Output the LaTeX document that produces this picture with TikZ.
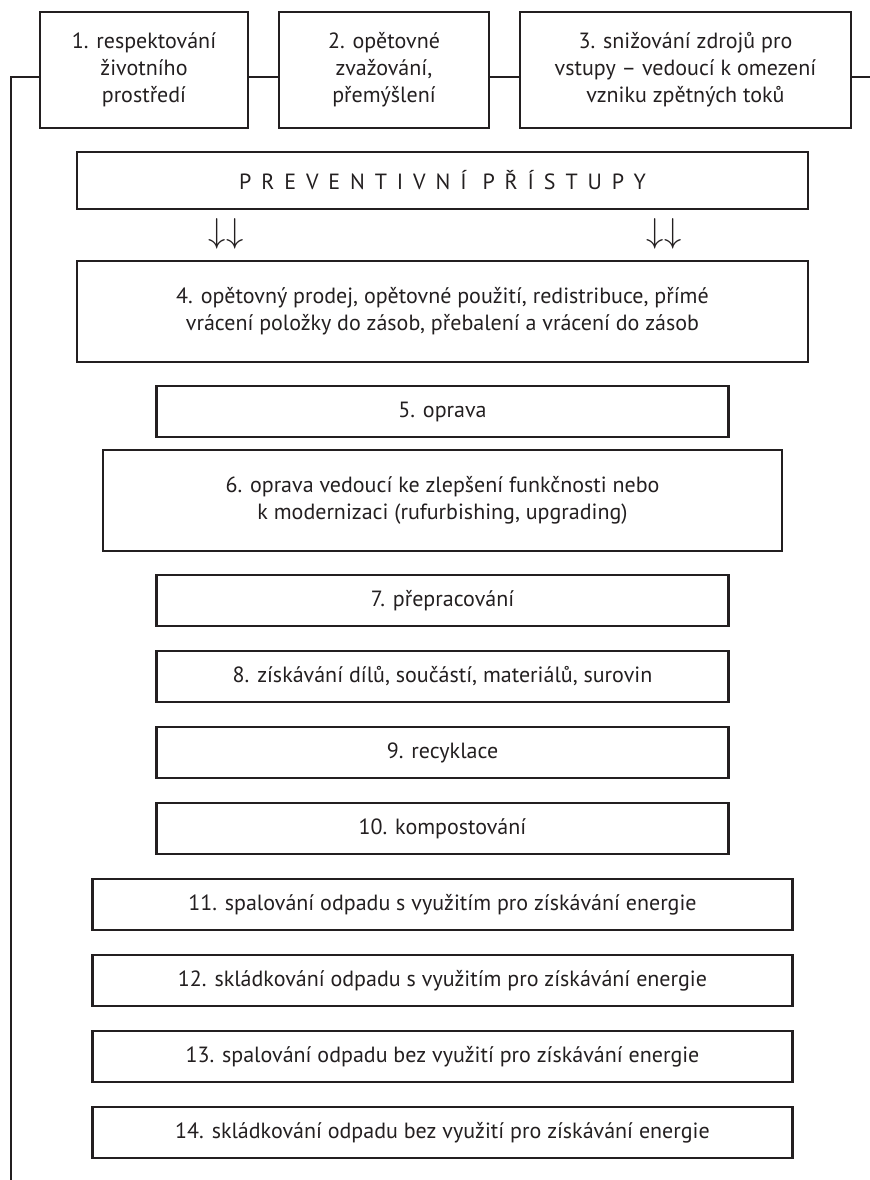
\documentclass[tikz,border=0pt]{standalone}
\usepackage{fontspec}
\setmainfont{PT Sans}
\usepackage{tikz}
\usetikzlibrary{positioning}
\definecolor{ink}{HTML}{231F20}
\tikzstyle{topbox} = [rectangle, draw=ink, line width=1.1pt, minimum height=58pt, align=center, text=ink, inner sep=0pt]
\tikzstyle{widebox} = [rectangle, draw=ink, line width=1.1pt, minimum width=365.5pt, minimum height=50.5pt, align=center, text=ink]
\tikzstyle{stepbox} = [rectangle, draw=ink, line width=1.1pt, minimum width=286pt, minimum height=25.5pt, align=center, text=ink]
\tikzstyle{endbox} = [stepbox, minimum width=350pt]
\tikzstyle{link} = [draw=ink, line width=1.1pt]
\tikzstyle{downs} = [text=ink, font=\fontsize{17}{17}\selectfont, inner sep=0pt]

\begin{document}
\begin{tikzpicture}[node distance=38pt, font=\fontsize{11}{13.5}\selectfont]
\useasboundingbox (0,0) rectangle (435pt,-590pt);

\node (resp) [topbox, minimum width=104pt] at (72pt,-35pt) {1. respektování\\ životního\\ prostředí};
\node (zvaz) [topbox, minimum width=105pt] at (192pt,-35pt) {2. opětovné\\ zvažování,\\ přemýšlení};
\node (sniz) [topbox, minimum width=165.5pt] at (342.75pt,-35pt) {3. snižování zdrojů pro\\ vstupy – vedoucí k omezení\\ vzniku zpětných toků};
\node (prev) [widebox, minimum height=28.5pt] at (221.25pt,-90.25pt) {\addfontfeature{LetterSpace=45}PREVENTIVNÍ PŘÍSTUPY};
\node (arrl) [downs] at (113pt,-117pt) {$\downarrow\downarrow$};
\node (arrr) [downs] at (332pt,-117pt) {$\downarrow\downarrow$};

\node (prodej) [widebox, below of=prev, yshift=-27.5pt] {4. opětovný prodej, opětovné použití, redistribuce, přímé\\ vrácení položky do zásob, přebalení a vrácení do zásob};
\node (oprava) [stepbox, below of=prodej, yshift=-12pt] {5. oprava};
\node (modern) [widebox, minimum width=339.5pt, below of=oprava, yshift=-6.5pt] {6. oprava vedoucí ke zlepšení funkčnosti nebo\\ k modernizaci (rufurbishing, upgrading)};
\node (prepr) [stepbox, below of=modern, yshift=-12pt] {7. přepracování};
\node (dily) [stepbox, below of=prepr] {8. získávání dílů, součástí, materiálů, surovin};
\node (recykl) [stepbox, below of=dily] {9. recyklace};
\node (kompost) [stepbox, below of=recykl] {10. kompostování};
\node (spalE) [endbox, below of=kompost] {11. spalování odpadu s využitím pro získávání energie};
\node (sklE) [endbox, below of=spalE] {12. skládkování odpadu s využitím pro získávání energie};
\node (spal) [endbox, below of=sklE] {13. spalování odpadu bez využití pro získávání energie};
\node (skl) [endbox, below of=spal] {14. skládkování odpadu bez využití pro získávání energie};

\coordinate (lnk) at (0,-38.5pt);
\coordinate (bot) at (5.5pt,-590pt);
\coordinate (redge) at (435pt,-38.5pt);
\draw [link] (resp.west |- lnk) -| (bot);
\draw [link] (resp.east |- lnk) -- (zvaz.west |- lnk);
\draw [link] (zvaz.east |- lnk) -- (sniz.west |- lnk);
\draw [link] (sniz.east |- lnk) -- (redge);
\end{tikzpicture}
\end{document}
